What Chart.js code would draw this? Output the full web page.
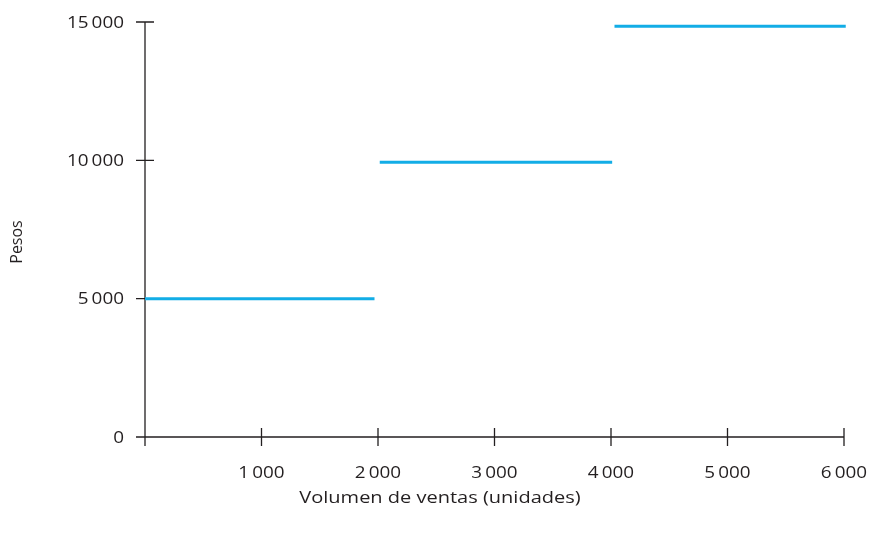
<!DOCTYPE html>
<html>
<head>
<meta charset="utf-8">
<script src="https://cdn.jsdelivr.net/npm/chart.js@4"></script>
<style>
  html, body { margin: 0; padding: 0; background: #fff; }
  #wrap { width: 874px; height: 539px; }
</style>
</head>
<body>
<div id="wrap"><canvas id="chart" width="874" height="539"></canvas></div>
<script>
// step segments (volumen de ventas -> pesos)
const segStart = [0, 2015, 4030];
const segEnd = [1970, 4010, 6015];
const segValue = [5000, 9930, 14850];

const xTicks = [1000, 2000, 3000, 4000, 5000, 6000];
const yTicks = [0, 5000, 10000, 15000];
const xTitle = 'Volumen de ventas (unidades)';
const yTitle = 'Pesos';

const lineColor = '#12ade6';
const inkColor = '#231f20';
const tickStretch = 1.18;
const titleStretch = 1.25;
const fontSpec = '16px "Open Sans", sans-serif';

function fmt(v) {
    const s = String(v);
    if (s.length <= 3) return s;
    return s.slice(0, -3) + '\u2009' + s.slice(-3);
}

const datasets = segStart.map((s, i) => ({
    data: [{ x: s, y: segValue[i] }, { x: segEnd[i], y: segValue[i] }],
    borderColor: lineColor,
    borderWidth: 3,
    pointRadius: 0,
    showLine: true,
    clip: false
}));

const axesPlugin = {
    id: 'axesPlugin',
    beforeDatasetsDraw(chart) {
        const ctx = chart.ctx;
        const xs = chart.scales.x;
        const ys = chart.scales.y;
        const x0 = xs.getPixelForValue(0);
        const xEnd = xs.getPixelForValue(6000);
        const y0 = ys.getPixelForValue(0);
        const yTop = ys.getPixelForValue(15000);
        ctx.save();
        ctx.strokeStyle = inkColor;
        ctx.lineWidth = 1.3;
        ctx.beginPath();
        ctx.moveTo(x0, yTop);
        ctx.lineTo(x0, y0 + 9);
        ctx.moveTo(x0, y0);
        ctx.lineTo(xEnd, y0);
        xTicks.forEach(v => {
            const px = xs.getPixelForValue(v);
            ctx.moveTo(px, y0 - 9);
            ctx.lineTo(px, y0 + 9);
        });
        yTicks.forEach(v => {
            const py = ys.getPixelForValue(v);
            ctx.moveTo(x0 - 9, py);
            ctx.lineTo(x0 + 9, py);
        });
        ctx.stroke();
        ctx.restore();
    },
    afterDraw(chart) {
        const ctx = chart.ctx;
        const xs = chart.scales.x;
        const ys = chart.scales.y;
        const x0 = xs.getPixelForValue(0);
        const y0 = ys.getPixelForValue(0);
        ctx.save();
        ctx.fillStyle = inkColor;
        ctx.font = fontSpec;
        ctx.textBaseline = 'alphabetic';

        ctx.textAlign = 'right';
        yTicks.forEach(v => {
            const py = ys.getPixelForValue(v);
            ctx.save();
            ctx.translate(x0 - 21, py + 5.6);
            ctx.scale(tickStretch, 1);
            ctx.fillText(fmt(v), 0, 0);
            ctx.restore();
        });

        ctx.textAlign = 'center';
        xTicks.forEach(v => {
            const px = xs.getPixelForValue(v);
            ctx.save();
            ctx.translate(px, y0 + 41);
            ctx.scale(tickStretch, 1);
            ctx.fillText(fmt(v), 0, 0);
            ctx.restore();
        });

        ctx.save();
        ctx.translate(440, 503);
        ctx.scale(titleStretch, 1);
        ctx.fillText(xTitle, 0, 0);
        ctx.restore();

        ctx.save();
        ctx.translate(22, 242);
        ctx.rotate(-Math.PI / 2);
        ctx.fillText(yTitle, 0, 0);
        ctx.restore();

        ctx.restore();
    }
};

new Chart(document.getElementById('chart'), {
    type: 'scatter',
    data: { datasets: datasets },
    options: {
        responsive: false,
        animation: false,
        events: [],
        layout: { padding: { left: 145, right: 30, top: 22, bottom: 102 } },
        plugins: { legend: { display: false }, tooltip: { enabled: false } },
        scales: {
            x: {
                type: 'linear', min: 0, max: 6000,
                ticks: { display: false, stepSize: 1000 },
                grid: { display: false, drawTicks: false },
                border: { display: false },
                afterFit(scale) { scale.height = 0; }
            },
            y: {
                type: 'linear', min: 0, max: 15000,
                ticks: { display: false, stepSize: 5000 },
                grid: { display: false, drawTicks: false },
                border: { display: false },
                afterFit(scale) { scale.width = 0; }
            }
        }
    },
    plugins: [axesPlugin]
});
</script>
</body>
</html>
